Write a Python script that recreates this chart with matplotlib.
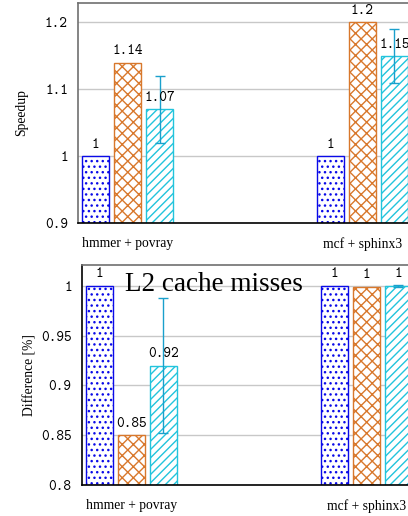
import matplotlib
matplotlib.use("Agg")
import matplotlib.pyplot as plt
import numpy as np

plt.rcParams['hatch.linewidth'] = 1.0

groups = ["hmmer + povray", "mcf + sphinx3"]
series_names = ["s1", "s2", "s3"]
speedup = [[1.0, 1.0], [1.14, 1.2], [1.07, 1.15]]
speedup_err = [None, None, [0.05, 0.04]]
l2 = [[1.0, 1.0], [0.85, 0.999], [0.92, 1.0]]
l2_err = [None, None, [0.068, 0.001]]
speed_ticks = [0.9, 1.0, 1.1, 1.2]
speed_ticklabels = ["0.9", "1", "1.1", "1.2"]
l2_ticks = [0.8, 0.85, 0.9, 0.95, 1.0]
l2_ticklabels = ["0.8", "0.85", "0.9", "0.95", "1"]

colors = ["#0a0ae8", "#d8782c", "#22c4dc"]
hatches = ["...", "xxx", "////"]
err_color = "#1aa0cc"
num_font = "cmtt10"
txt_font = "Liberation Serif"

fig = plt.figure(figsize=(4.08, 5.16), dpi=100)
W, H = 408, 516

def make_ax(left, top, right, bottom):
    return fig.add_axes([left / W, 1 - bottom / H, (right - left) / W, (bottom - top) / H])

ax1 = make_ax(78, 3, 412, 223)
ax2 = make_ax(81.7, 265, 416, 485.3)

offsets = [-0.136, 0.0, 0.136]
width = 0.115
x = np.arange(len(groups))

def fmt(v):
    return "{:g}".format(round(v, 2))

def draw(ax, data, errs, ylim, ticks, ticklabels, ylabel, left_spine_color, lab_x):
    ax.set_axisbelow(True)
    for i, vals in enumerate(data):
        xs = x + offsets[i]
        bot = ylim[0]
        ax.bar(xs, np.array(vals) - bot, width, bottom=bot, facecolor="white",
               edgecolor=colors[i], hatch=hatches[i], linewidth=1.0, zorder=2)
        if errs[i] is not None:
            ax.errorbar(xs, vals, yerr=errs[i], fmt="none", ecolor=err_color,
                        elinewidth=1.0, capsize=3.6, capthick=1.0, zorder=3)
        for xx, v in zip(xs, vals):
            ax.annotate(fmt(v), (xx, v), xytext=(0, 3), textcoords="offset points",
                        ha="center", va="bottom", fontsize=10.5, family=num_font,
                        zorder=4, annotation_clip=False)
    ax.set_xlim(-0.211, 1.211)
    ax.set_ylim(*ylim)
    ax.set_yticks(ticks)
    ax.set_yticklabels(ticklabels, family=num_font, fontsize=10.5)
    ax.set_xticks(x)
    ax.set_xticklabels(groups, family=txt_font, fontsize=9.8)
    ax.tick_params(axis="y", length=0, pad=7.2)
    ax.tick_params(axis="x", length=0, pad=10)
    ax.yaxis.grid(True, color="#c8c8c8", linewidth=1.0)
    ax.set_ylabel(ylabel, family=txt_font, fontsize=9.8)
    ax.yaxis.set_label_coords(lab_x, 0.5)
    ax.spines["left"].set_color(left_spine_color)
    ax.spines["top"].set_color("#707070")
    ax.spines["bottom"].set_color("black")
    for s in ax.spines.values():
        s.set_linewidth(1.2)

draw(ax1, speedup, speedup_err, (0.9, 1.229), speed_ticks, speed_ticklabels,
     "Speedup", "#707070", -0.15)
draw(ax2, l2, l2_err, (0.8, 1.0207), l2_ticks, l2_ticklabels,
     "Difference [%]", "black", -0.135)

ax2.text((125 - 81.7) / 334.3, (485.3 - 290.7) / 220.3, "L2 cache misses",
         transform=ax2.transAxes, ha="left", va="baseline", family=txt_font,
         fontsize=19.5, zorder=5)

fig.savefig("out.png", dpi=100)
